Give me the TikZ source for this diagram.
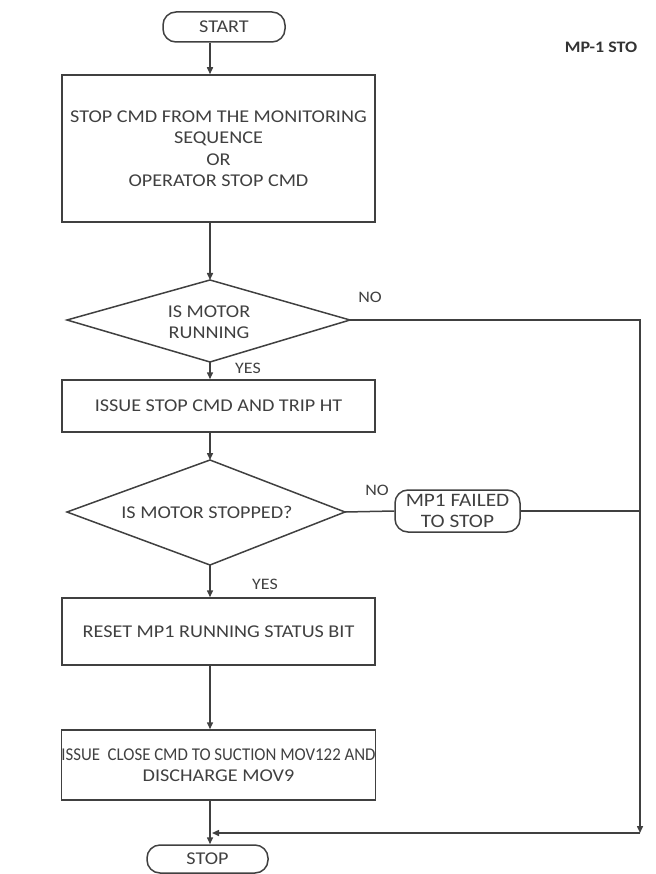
\documentclass[tikz,border=0pt]{standalone}
\usepackage{fontspec}
\setmainfont{Carlito}[FakeStretch=1.12]
\usetikzlibrary{arrows.meta}
\begin{document}
\begin{tikzpicture}[x=1pt,y=-1pt,
  line/.style={draw=black!75, line width=1.5pt},
  arr/.style={line, -{Triangle[length=7pt,width=6pt]}},
  txt/.style={text=black!75, font=\fontsize{18}{21.5}\selectfont, align=center, inner sep=0pt},
  procbox/.style={txt, line, rectangle, minimum width=313pt},
  term/.style={txt, line, rectangle, rounded corners=13pt},
  lbl/.style={text=black!75, font=\fontsize{16}{18}\selectfont, inner sep=0pt}]
\useasboundingbox (0,0) rectangle (655,874);
\coordinate (ax) at (210,0);
% terminals
\node[term, minimum width=122pt, minimum height=30pt] (start) at (224,27) {START};
\node[term, minimum width=121pt, minimum height=28pt] (stop) at (207.5,859) {STOP};
% process boxes
\node[procbox, minimum height=147pt] (b1) at (218.5,148.5) {STOP CMD FROM THE MONITORING\\SEQUENCE\\OR\\OPERATOR STOP CMD};
\node[procbox, minimum height=52pt] (b2) at (218.5,406) {ISSUE STOP CMD AND TRIP HT};
\node[procbox, minimum height=67pt] (b3) at (218.5,631.5) {RESET MP1 RUNNING STATUS BIT};
\node[procbox, minimum height=70pt] (b4) at (218.5,765) {\scalebox{0.835}[1]{ISSUE\ \ CLOSE CMD TO SUCTION MOV122 AND}\\DISCHARGE MOV9};
% decision 1
\coordinate (d1t) at (210,280);
\coordinate (d1r) at (350,320);
\coordinate (d1b) at (210,362);
\coordinate (d1l) at (67,320);
\draw[line] (d1t) -- (d1r) -- (d1b) -- (d1l) -- cycle;
\node[txt] (q1) at (209,322) {IS MOTOR\\RUNNING};
% decision 2
\coordinate (d2t) at (210,460);
\coordinate (d2r) at (345,512);
\coordinate (d2b) at (210,565);
\coordinate (d2l) at (67,512);
\draw[line] (d2t) -- (d2r) -- (d2b) -- (d2l) -- cycle;
\node[txt] (q2) at (207,512) {IS MOTOR STOPPED?};
% failure terminal
\node[term, minimum width=125pt, minimum height=42pt, font=\fontsize{19}{21}\selectfont] (mp1) at (457.5,511) {MP1 FAILED\\TO STOP};
% right rail
\coordinate (rt) at (640,320);
\coordinate (rb) at (640,833);
\coordinate (jn) at (212,833);
% connectors
\draw[arr] (start.south -| ax) -- (b1.north -| ax);
\draw[arr] (b1.south -| ax) -- (d1t);
\draw[arr] (d1b) -- (b2.north -| ax);
\draw[arr] (b2.south -| ax) -- (d2t);
\draw[arr] (d2b) -- (b3.north -| ax);
\draw[arr] (b3.south -| ax) -- (b4.north -| ax);
\draw[arr] (b4.south -| ax) -- (stop.north -| ax);
\draw[arr] (d1r) -- (rt) -- (rb);
\draw[arr] (rb) -- (jn);
\draw[line] (d2r) -- (mp1.west);
\draw[line] (mp1.east) -- (mp1.east -| rt);
% labels
\node[lbl] (no1) at (370,297) {NO};
\node[lbl] (yes1) at (248,368) {YES};
\node[lbl] (no2) at (377,490) {NO};
\node[lbl] (yes2) at (265,584) {YES};
\node[text=black!80, font=\bfseries\fontsize{16}{18}\selectfont, inner sep=0pt] (title) at (601,47) {MP-1 STO};
\end{tikzpicture}
\end{document}
